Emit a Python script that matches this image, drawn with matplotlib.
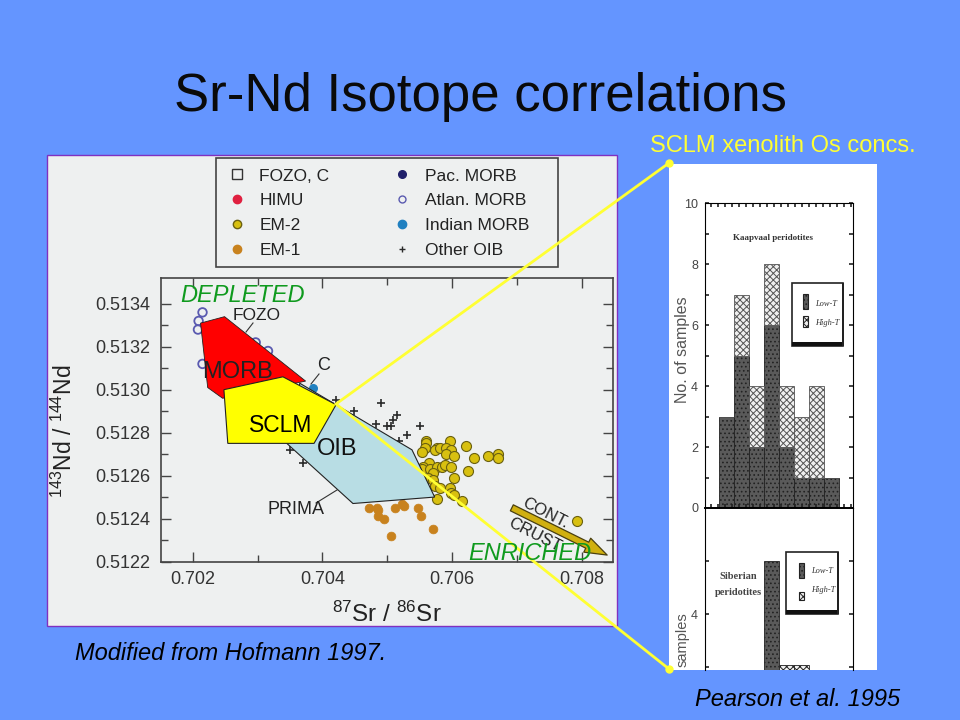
import matplotlib
matplotlib.use("Agg")
import matplotlib.pyplot as plt
from matplotlib.lines import Line2D
from matplotlib.patches import Polygon, Rectangle

plt.rcParams['font.family'] = ['Liberation Sans', 'DejaVu Sans']
plt.rcParams['mathtext.default'] = 'regular'
plt.rcParams['hatch.linewidth'] = 0.7

# isotope diagram data
em2_x = [.70560, .70560, .70558, .70553, .70576, .70573, .70581, .70596, .70591, .70598, .70591, .70603,
         .70621, .70634, .70655, .70670, .70670, .70565, .70555, .70553, .70566, .70576, .70584, .70589,
         .70598, .70570, .70624, .70603, .70563, .70571, .70573, .70581, .70596, .70598, .70603, .70615,
         .70576, .70792]
em2_y = [.51276, .51275, .51273, .51271, .51273, .51272, .51273, .51276, .51273, .51272, .51270, .51269,
         .51274, .51268, .51269, .51270, .51268, .51266, .51264, .51263, .51263, .51264, .51264, .51265,
         .51264, .51261, .51262, .51259, .51259, .51258, .51255, .51254, .51254, .51252, .51251, .51248,
         .51249, .51239]
em1_x = [.70472, .70484, .70486, .70486, .70495, .70512, .70522, .70526, .70548, .70552, .70505, .70571]
em1_y = [.51245, .51245, .51244, .51241, .51240, .51245, .51247, .51246, .51245, .51241, .51232, .51235]
oib_x = [.70490, .70449, .70482, .70499, .70505, .70509, .70515, .70551, .70531, .70518, .70421, .70370, .70350]
oib_y = [.51294, .51290, .51284, .51283, .51283, .51286, .51288, .51283, .51279, .51276, .51295, .51266, .51272]
atlan_x = [.70215, .70209, .70208, .70215, .70297, .70316]
atlan_y = [.51336, .51332, .51328, .51312, .51322, .51318]
indian_x = [.70385]
indian_y = [.51301]

morb_poly = [(.70212, .51331), (.70249, .51334), (.70374, .51304), (.70246, .51296), (.70223, .51301)]
oib_poly = [(.70365, .51303), (.70538, .51272), (.70573, .51250), (.70447, .51247), (.70345, .51275)]
sclm_poly = [(.70248, .51300), (.70339, .51306), (.70421, .51293), (.70387, .51275), (.70254, .51275)]

x_major = [.702, .704, .706, .708]
x_labels = ['0.702', '0.704', '0.706', '0.708']
x_minor = [.703, .705, .707]
y_major = [.5122, .5124, .5126, .5128, .5130, .5132, .5134]
y_labels = ['0.5122', '0.5124', '0.5126', '0.5128', '0.5130', '0.5132', '0.5134']
y_minor = [.5123, .5125, .5127, .5129, .5131, .5133]

# histogram data
bin_edges = [719, 734, 749, 764, 779, 794, 809, 824, 839]
kaapvaal_low = [3, 5, 2, 6, 2, 1, 1, 1]
kaapvaal_high = [0, 2, 2, 2, 2, 2, 3, 0]
siberian_low = [0, 0, 0, 6, 0, 0, 0, 0]
siberian_high = [0, 0, 0, 0, 2.1, 2.1, 0, 0]

BG = '#6495FF'
LOW = '#5a5a5a'
W, H = 960, 720


def px_axes(left, top, right, bottom, **kw):
    return fig.add_axes([left / W, 1 - bottom / H, (right - left) / W, (bottom - top) / H], **kw)


fig = plt.figure(figsize=(9.6, 7.2), dpi=100, facecolor=BG)

# slide furniture under the charts
back = px_axes(0, 0, W, H, zorder=0)
back.set_xlim(0, W)
back.set_ylim(H, 0)
back.axis('off')
back.add_patch(Rectangle((47, 155), 570, 471, fc='#eef0f0', ec='#8030c0', lw=1))
back.add_patch(Rectangle((669, 164), 208, 506, fc='white', ec='none'))
back.add_patch(Rectangle((216, 158), 342, 109, fc='#eef0f0', ec='#444444', lw=1.2))

# main isotope plot
ax = px_axes(161, 278, 613, 561.5, zorder=1)
ax.set_facecolor('#eef0f0')
ax.set_xlim(.70151, .70848)
ax.set_ylim(.5122, .51352)
ax.scatter(em1_x, em1_y, s=40, c='#c8821e', edgecolors='#c8821e', linewidths=.5, zorder=3)
ax.scatter(em2_x, em2_y, s=52, c='#d8c010', edgecolors='#6a6010', linewidths=.8, zorder=3)
ax.scatter(oib_x, oib_y, s=32, marker='+', c='#2a2a2a', linewidths=1.2, zorder=3)
ax.scatter(atlan_x, atlan_y, s=38, facecolors='none', edgecolors='#5a5ab0', linewidths=1.3, zorder=3)
ax.scatter(indian_x, indian_y, s=30, c='#2080c0', zorder=3)
ax.add_patch(Polygon(morb_poly, fc='#ff0000', ec='#222222', lw=.6, zorder=4))
ax.add_patch(Polygon(oib_poly, fc='#b8dde4', ec='#222222', lw=.8, zorder=4))
ax.add_patch(Polygon(sclm_poly, fc='#ffff00', ec='#222222', lw=.8, zorder=5))

ax.set_xticks(x_major, x_labels)
ax.set_xticks(x_minor, minor=True)
ax.set_yticks(y_major, y_labels)
ax.set_yticks(y_minor, minor=True)
ax.tick_params(which='major', direction='in', length=7.5, width=1, top=True, right=True, labelsize=13,
               labelcolor='#333333', color='#444444')
ax.tick_params(which='minor', direction='in', length=5, width=1, top=True, right=True, color='#444444')
ax.tick_params(axis='y', which='major', pad=8)
ax.tick_params(axis='x', which='major', pad=7)
for s in ax.spines.values():
    s.set_color('#444444')
    s.set_linewidth(1.2)
ax.set_xlabel('$^{87}$Sr / $^{86}$Sr', fontsize=17.5, color='#222222')
ax.xaxis.set_label_coords(.5, -.143)
ax.set_ylabel('$^{143}$Nd / $^{144}$Nd', fontsize=16.5, color='#222222')
ax.yaxis.set_label_coords(-.185, .46)

ax.annotate('', xy=(.70839, .51223), xytext=(.70692, .51245), zorder=4,
            arrowprops=dict(arrowstyle='simple,head_width=.7,head_length=1,tail_width=.3', fc='#d0b010',
                            ec='#4a4010', lw=.9, mutation_scale=16, shrinkA=0, shrinkB=0))

legend_handles = [
    Line2D([], [], ls='', marker='s', ms=7.5, mfc='none', mec='#333333', label='FOZO, C'),
    Line2D([], [], ls='', marker='o', ms=6, mfc='#e02040', mec='#e02040', label='HIMU'),
    Line2D([], [], ls='', marker='o', ms=6, mfc='#d8c010', mec='#6a6010', label='EM-2'),
    Line2D([], [], ls='', marker='o', ms=6, mfc='#c8821e', mec='#c8821e', label='EM-1'),
    Line2D([], [], ls='', marker='o', ms=5.5, mfc='#20206a', mec='#20206a', label='Pac. MORB'),
    Line2D([], [], ls='', marker='o', ms=5, mfc='none', mec='#5a5ab0', label='Atlan. MORB'),
    Line2D([], [], ls='', marker='o', ms=6, mfc='#2080c0', mec='#2080c0', label='Indian MORB'),
    Line2D([], [], ls='', marker='+', ms=5, mec='#2a2a2a', label='Other OIB'),
]
ax.legend(handles=legend_handles, ncol=2, loc='upper left', fontsize=12.5,
          bbox_to_anchor=(216 / W, 1 - 158 / H), bbox_transform=fig.transFigure, frameon=False,
          labelspacing=.55, columnspacing=3.6, handlelength=1.2, handletextpad=.7, borderpad=.6,
          borderaxespad=0, labelcolor='#222222')

# Kaapvaal histogram
widths = [b - a for a, b in zip(bin_edges[:-1], bin_edges[1:])]
centers = [(a + b) / 2 for a, b in zip(bin_edges[:-1], bin_edges[1:])]

ax2 = px_axes(705, 203, 853, 508, zorder=1)
ax2.bar(centers, kaapvaal_low, widths, color=LOW, hatch='....', edgecolor='#222222', linewidth=.6)
ax2.bar(centers, kaapvaal_high, widths, bottom=kaapvaal_low, color='#f0f0f0', hatch='xxxxx',
        edgecolor='#555555', linewidth=.6)
ax2.set_xlim(705, 853)
ax2.set_ylim(0, 10)
ax2.set_yticks([0, 2, 4, 6, 8, 10])
ax2.set_yticks([1, 3, 5, 7, 9], minor=True)
ax2.set_xticks(range(711, 853, 7))
ax2.set_xticklabels([])
ax2.tick_params(axis='both', which='both', direction='in', length=3, width=1.2, top=True, right=True,
                color='#222222')
ax2.tick_params(axis='y', labelsize=9, pad=5, labelcolor='#444444')
ax2.text(.46, .885, 'Kaapvaal peridotites', transform=ax2.transAxes, ha='center', va='center',
         family='Liberation Serif', fontsize=6.5, weight='bold', color='#333333')
ax2.set_ylabel('No. of samples', fontsize=11.5, color='#555555')
ax2.yaxis.set_label_coords(-.1, .52)

# Siberian histogram, cut off by the bottom of the scan
ax3 = px_axes(705, 508, 853, 670, zorder=1)
ax3.bar(centers, siberian_low, widths, color=LOW, hatch='....', edgecolor='#222222', linewidth=.6)
ax3.bar(centers, siberian_high, widths, color='#f0f0f0', hatch='xxxxx', edgecolor='#222222', linewidth=.6)
ax3.set_xlim(705, 853)
ax3.set_ylim(1.9, 8.0)
ax3.set_yticks([2, 4, 6])
ax3.set_yticklabels(['', '4', ''])
ax3.set_xticks([])
ax3.tick_params(axis='y', direction='in', length=3, width=1.2, right=True, labelsize=9, pad=5,
                labelcolor='#444444', color='#222222')
ax3.spines['bottom'].set_visible(False)
ax3.spines['top'].set_linewidth(1.4)
ax3.text(.225, .53, 'Siberian\nperidotites', transform=ax3.transAxes, ha='center', va='center',
         family='Liberation Serif', fontsize=7.5, weight='bold', color='#444444', linespacing=2)
ax3.text(-.149, .185, 'samples', transform=ax3.transAxes, ha='center', va='center', rotation=90,
         fontsize=10.5, color='#555555')

# everything that sits on top of the scans
top = px_axes(0, 0, W, H, zorder=10)
top.set_xlim(0, W)
top.set_ylim(H, 0)
top.axis('off')
top.patch.set_alpha(0)


def key_box(left, t, right, b):
    top.add_patch(Rectangle((left, t), right - left, b - t, fc='white', ec='#222222', lw=1.2))
    top.add_patch(Rectangle((left, b - 4), right - left, 4, fc='#111111', ec='none'))
    top.add_patch(Rectangle((right - 1, t), 2, b - t, fc='#222222', ec='none'))


key_box(792, 283, 843, 346)
top.add_patch(Rectangle((803, 294), 5, 15, fc=LOW, ec='#222222', lw=.8, hatch='....'))
top.add_patch(Rectangle((803, 316), 5, 11, fc='#eeeeee', ec='#222222', lw=.8, hatch='xxxxx'))
top.text(815, 304, 'Low-T', family='Liberation Serif', style='italic', fontsize=6, va='center', color='#333333')
top.text(815, 323, 'High-T', family='Liberation Serif', style='italic', fontsize=6, va='center', color='#333333')
key_box(786, 552, 838, 614)
top.add_patch(Rectangle((799, 563), 5, 15, fc=LOW, ec='#222222', lw=.8, hatch='....'))
top.add_patch(Rectangle((799, 592), 5, 8, fc='#eeeeee', ec='#222222', lw=.8, hatch='xxxxx'))
top.text(811, 571, 'Low-T', family='Liberation Serif', style='italic', fontsize=6, va='center', color='#333333')
top.text(811, 590, 'High-T', family='Liberation Serif', style='italic', fontsize=6, va='center', color='#333333')

# plot callouts
top.text(257, 315, 'FOZO', fontsize=12.5, ha='center', va='center', color='#222222')
top.plot([253, 246], [323, 332], color='#333333', lw=.8)
top.text(324, 366, 'C', fontsize=13, ha='center', va='center', color='#222222')
top.plot([319, 311], [374, 384], color='#333333', lw=.8)
top.text(296, 510, 'PRIMA', fontsize=13, ha='center', va='center', color='#222222')
top.plot([316, 337], [503, 490], color='#333333', lw=.8)
top.text(545, 513, 'CONT.', fontsize=12, ha='center', va='center', rotation=-27, color='#222222')
top.text(535, 535, 'CRUST', fontsize=12, ha='center', va='center', rotation=-27, color='#222222')

top.text(238, 372, 'MORB', fontsize=17, ha='center', va='center', color='#222222')
top.text(281, 425, 'SCLM', fontsize=16.5, ha='center', va='center', color='black')
top.text(337, 449, 'OIB', fontsize=17, ha='center', va='center', color='#111111')
top.text(243, 296, 'DEPLETED', fontsize=17, style='italic', ha='center', va='center', color='#0f9a1e')
top.text(530, 553, 'ENRICHED', fontsize=17, style='italic', ha='center', va='center', color='#0f9a1e')

# connector from the SCLM field to the xenolith panel
top.plot([669, 336, 669], [163, 404, 669], color='#ffff33', lw=2, solid_joinstyle='miter')
top.plot([669, 669], [163, 669], ls='', marker='o', ms=5, color='#ffff33')

top.text(480, 97, 'Sr-Nd Isotope correlations', fontsize=38, ha='center', va='center', color='#0a0a0a')
top.text(783, 146, 'SCLM xenolith Os concs.', fontsize=17, ha='center', va='center', color='#ffff33')
top.text(75, 653, 'Modified from Hofmann 1997.', fontsize=17, style='italic', ha='left', va='center', color='black')
top.text(695, 699, 'Pearson et al. 1995', fontsize=17, style='italic', ha='left', va='center', color='black')

fig.savefig('out.png', dpi=100, facecolor=BG)
